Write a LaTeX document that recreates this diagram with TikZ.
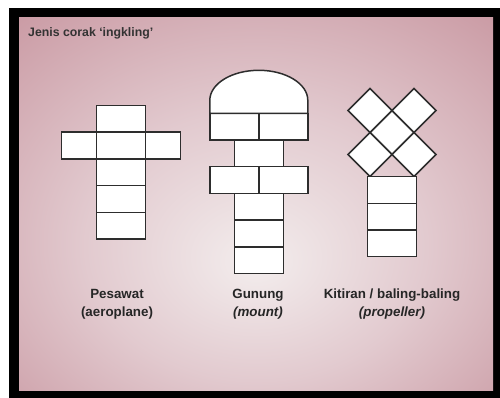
\documentclass[tikz,border=0pt]{standalone}
\usepackage{fontspec}
\setsansfont{Liberation Sans}
\usepackage{xcolor}
\usepackage{tikz}
\usetikzlibrary{
    positioning,
    shapes.geometric,
    calc
}

\definecolor{pinklo}{RGB}{200,150,160}
\definecolor{pinkmid}{RGB}{226,202,207}
\definecolor{pinkhi}{RGB}{243,237,237}
\definecolor{linegray}{RGB}{45,45,45}

\pgfdeclareradialshading{panelshade}{\pgfpoint{0bp}{-8bp}}{%
    color(0bp)=(pinkhi); color(18bp)=(pinkmid); color(40bp)=(pinklo); color(60bp)=(pinklo)}

\begin{document}
\begin{tikzpicture}[
    x=0.02cm, y=0.02cm,
    cellbox/.style={
        draw=linegray,
        fill=white,
        line width=0.85pt,
        minimum width=0.98cm,
        minimum height=0.534cm,
        inner sep=0pt,
        outer sep=0pt
    },
    wingbox/.style={
        cellbox,
        minimum width=0.7cm
    },
    tilebox/.style={
        diamond,
        aspect=1,
        draw=linegray,
        fill=white,
        line width=0.85pt,
        minimum width=0.88cm,
        minimum height=0.88cm,
        inner sep=0pt,
        outer sep=0pt
    },
    namelabel/.style={
        font=\sffamily\bfseries\fontsize{7.6}{10.2}\selectfont,
        text=black!85,
        align=center
    }
]

\useasboundingbox (0,0) rectangle (500,398);
\fill[white] (0,0) rectangle (500,398);
\fill[black] (9,0) rectangle (500,390);
\shade[shading=panelshade] (19,7) rectangle (493,380);

% title
\node[anchor=west, font=\sffamily\bfseries\fontsize{7}{8}\selectfont, text=black!80]
    (title) at (22,365) {Jenis corak `ingkling'};

% pesawat
\node[cellbox] (p1) at (121,279.1) {};
\node[cellbox, below=0pt of p1] (p2) {};
\node[wingbox, left=0pt of p2] (p2l) {};
\node[wingbox, right=0pt of p2] (p2r) {};
\node[cellbox, below=0pt of p2] (p3) {};
\node[cellbox, below=0pt of p3] (p4) {};
\node[cellbox, below=0pt of p4] (p5) {};

% gunung
\node[cellbox] (g1l) at (234.3,271.35) {};
\node[cellbox, right=0pt of g1l] (g1r) {};
\node[cellbox, below=0pt of g1l.south east] (g2) {};
\node[cellbox, below=0pt of g2.south west] (g3l) {};
\node[cellbox, right=0pt of g3l] (g3r) {};
\node[cellbox, below=0pt of g3l.south east] (g4) {};
\node[cellbox, below=0pt of g4] (g5) {};
\node[cellbox, below=0pt of g5] (g6) {};
\draw[draw=linegray, fill=white, line width=0.85pt]
    (g1l.north west) -- ++(0,13)
    arc[start angle=180, end angle=0, x radius=49, y radius=30]
    -- (g1r.north east) -- cycle;

% kitiran
\node[tilebox] (kc) at (392,265.5) {};
\node[tilebox] (ktl) at (370,287.5) {};
\node[tilebox] (ktr) at (414,287.5) {};
\node[tilebox] (kbl) at (370,243.5) {};
\node[tilebox] (kbr) at (414,243.5) {};
\node[cellbox] (k1) at (392,208) {};
\node[cellbox, below=0pt of k1] (k2) {};
\node[cellbox, below=0pt of k2] (k3) {};

% labels
\node[namelabel] (lp) at (117,94) {Pesawat\\(aeroplane)};
\node[namelabel] (lg) at (258,94) {Gunung\\{\itshape (mount)}};
\node[namelabel] (lk) at (392,94) {Kitiran / baling-baling\\{\itshape (propeller)}};

\end{tikzpicture}
\end{document}
